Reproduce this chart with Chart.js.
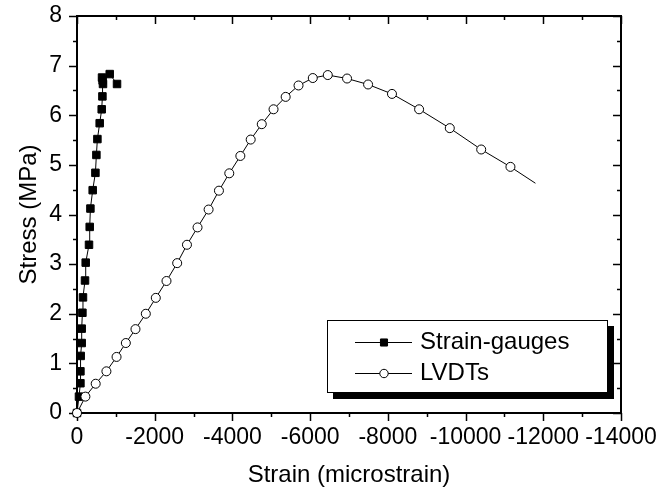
<!DOCTYPE html>
<html>
<head>
<meta charset="utf-8">
<script src="https://cdn.jsdelivr.net/npm/chart.js@4/dist/chart.umd.min.js"></script>
<style>
  html, body { margin: 0; padding: 0; background: #fff; }
</style>
</head>
<body>
<canvas id="stressChart" width="661" height="490"></canvas>
<script>
// valeurs
const gaugeStrain = [0, -51, -88, -88, -95, -121, -121, -139, -154, -206, -224, -309, -327, -345, -404, -474, -499, -525, -584, -636, -654, -669, -660, -644, -842, -1030];
const gaugeStress = [0, 0.33, 0.60, 0.84, 1.15, 1.41, 1.70, 2.02, 2.33, 2.67, 3.03, 3.39, 3.75, 4.12, 4.49, 4.84, 5.20, 5.52, 5.84, 6.12, 6.38, 6.63, 6.70, 6.76, 6.83, 6.63];

const lvdtStrain = [0, -216, -481, -757, -1018, -1257, -1505, -1771, -2028, -2303, -2578, -2830, -3102, -3387, -3653, -3919, -4204, -4470, -4755, -5058, -5370, -5701, -6068, -6454, -6950, -7491, -8106, -8804, -9594, -10402, -11155, -11798];
const lvdtStress = [0, 0.33, 0.59, 0.84, 1.13, 1.41, 1.69, 2.00, 2.32, 2.66, 3.02, 3.39, 3.74, 4.10, 4.48, 4.83, 5.18, 5.51, 5.82, 6.12, 6.37, 6.60, 6.75, 6.81, 6.74, 6.62, 6.43, 6.12, 5.74, 5.31, 4.96, 4.63];

const xTicks = [0, -2000, -4000, -6000, -8000, -10000, -12000, -14000];
const xTickLabels = ["0", "-2000", "-4000", "-6000", "-8000", "-10000", "-12000", "-14000"];
const xMinorTicks = [-1000, -3000, -5000, -7000, -9000, -11000, -13000];
const yTicks = [0, 1, 2, 3, 4, 5, 6, 7, 8];
const yTickLabels = ["0", "1", "2", "3", "4", "5", "6", "7", "8"];
const yMinorTicks = [0.5, 1.5, 2.5, 3.5, 4.5, 5.5, 6.5, 7.5];

const FONT = "'Liberation Sans', Arial, sans-serif";

function toPoints(xs, ys) {
  return xs.map((x, i) => ({ x: x, y: ys[i] }));
}

// cadre + graduations (gauche/bas vers l'extérieur, haut/droite vers l'intérieur)
const frameTicks = {
  id: "frameTicks",
  beforeDatasetsDraw(chart) {
    const { ctx, chartArea: a, scales } = chart;
    const sx = scales.x, sy = scales.y;
    ctx.save();
    ctx.strokeStyle = "#000";
    ctx.lineWidth = 1.5;
    const line = (x1, y1, x2, y2) => {
      ctx.beginPath(); ctx.moveTo(x1, y1); ctx.lineTo(x2, y2); ctx.stroke();
    };
    const xt = (vals, len) => vals.forEach(v => {
      const px = Math.round(sx.getPixelForValue(v)) + 0.5;
      line(px, a.bottom, px, a.bottom + len);
      line(px, a.top, px, a.top + len);
    });
    const yt = (vals, len) => vals.forEach(v => {
      const py = Math.round(sy.getPixelForValue(v)) + 0.5;
      line(a.left - len, py, a.left, py);
      line(a.right - len, py, a.right, py);
    });
    xt(xTicks, 8); xt(xMinorTicks, 4);
    yt(yTicks, 8); yt(yMinorTicks, 4);
    ctx.lineWidth = 2;
    ctx.strokeRect(a.left, a.top, a.right - a.left, a.bottom - a.top);
    ctx.restore();
  }
};

// légende encadrée avec ombre
const boxLegend = {
  id: "boxLegend",
  afterDraw(chart) {
    const ctx = chart.ctx;
    const bx = 327, by = 320, bw = 281, bh = 73;
    ctx.save();
    ctx.fillStyle = "#000";
    ctx.fillRect(bx + 6, by + 6, bw, bh);
    ctx.fillStyle = "#fff";
    ctx.fillRect(bx, by, bw, bh);
    ctx.strokeStyle = "#000";
    ctx.lineWidth = 1;
    ctx.strokeRect(bx + 0.5, by + 0.5, bw - 1, bh - 1);
    const rows = [342, 373];
    chart.data.datasets.forEach((ds, i) => {
      const y = rows[i];
      ctx.strokeStyle = "#000";
      ctx.lineWidth = 1;
      ctx.beginPath(); ctx.moveTo(355, y + 0.5); ctx.lineTo(412, y + 0.5); ctx.stroke();
      ctx.fillStyle = ds.pointBackgroundColor;
      ctx.strokeStyle = "#000";
      Chart.helpers.drawPoint(ctx, {
        pointStyle: ds.pointStyle, radius: ds.pointStyle === "rect" ? 5 : 4.2,
        rotation: 0, borderWidth: 1
      }, 384, y + 0.5);
      ctx.fillStyle = "#000";
      ctx.font = "24px " + FONT;
      ctx.textBaseline = "middle";
      ctx.fillText(ds.label, 420, y);
    });
    ctx.restore();
  }
};

new Chart(document.getElementById("stressChart"), {
  type: "scatter",
  data: {
    datasets: [
      {
        label: "Strain-gauges",
        data: toPoints(gaugeStrain, gaugeStress),
        showLine: true,
        borderColor: "#000",
        borderWidth: 1,
        pointStyle: "rect",
        pointRadius: 5.3,
        pointBackgroundColor: "#000",
        pointBorderColor: "#000",
        pointBorderWidth: 1,
        order: 1,
        clip: 12
      },
      {
        label: "LVDTs",
        data: toPoints(lvdtStrain, lvdtStress),
        showLine: true,
        borderColor: "#000",
        borderWidth: 1,
        pointStyle: "circle",
        pointRadius: ctx => ctx.dataIndex === lvdtStrain.length - 1 ? 0 : 4.5,
        pointBackgroundColor: "#fff",
        pointBorderColor: "#000",
        pointBorderWidth: 1,
        order: 0,
        clip: 12
      }
    ]
  },
  options: {
    responsive: false,
    animation: false,
    layout: { padding: { top: 16, right: 40, left: 0, bottom: 0 } },
    plugins: { legend: { display: false }, tooltip: { enabled: false } },
    scales: {
      x: {
        type: "linear",
        position: "bottom",
        min: -14000,
        max: 0,
        reverse: true,
        grid: { display: false, drawTicks: false },
        border: { display: false },
        afterBuildTicks: s => { s.ticks = xTicks.map(v => ({ value: v })); },
        afterFit: s => { s.height = 77; s.paddingLeft = 0; s.paddingRight = 0; },
        ticks: {
          autoSkip: false,
          maxRotation: 0,
          padding: 11,
          color: "#000",
          font: { family: FONT, size: 23 },
          callback: (v) => xTickLabels[xTicks.indexOf(v)]
        },
        title: {
          display: true,
          text: "Strain (microstrain)",
          color: "#000",
          font: { family: FONT, size: 24 },
          padding: { top: 0, bottom: 0 }
        }
      },
      y: {
        type: "linear",
        position: "left",
        min: 0,
        max: 8,
        grid: { display: false, drawTicks: false },
        border: { display: false },
        afterBuildTicks: s => { s.ticks = yTicks.map(v => ({ value: v })); },
        afterFit: s => { s.width = 77; s.paddingTop = 0; s.paddingBottom = 0; },
        ticks: {
          padding: 15,
          color: "#000",
          font: { family: FONT, size: 23 },
          callback: (v) => yTickLabels[yTicks.indexOf(v)]
        },
        title: {
          display: true,
          text: "Stress (MPa)",
          color: "#000",
          font: { family: FONT, size: 24 },
          padding: { top: 15, bottom: 0 }
        }
      }
    }
  },
  plugins: [frameTicks, boxLegend]
});
</script>
</body>
</html>
